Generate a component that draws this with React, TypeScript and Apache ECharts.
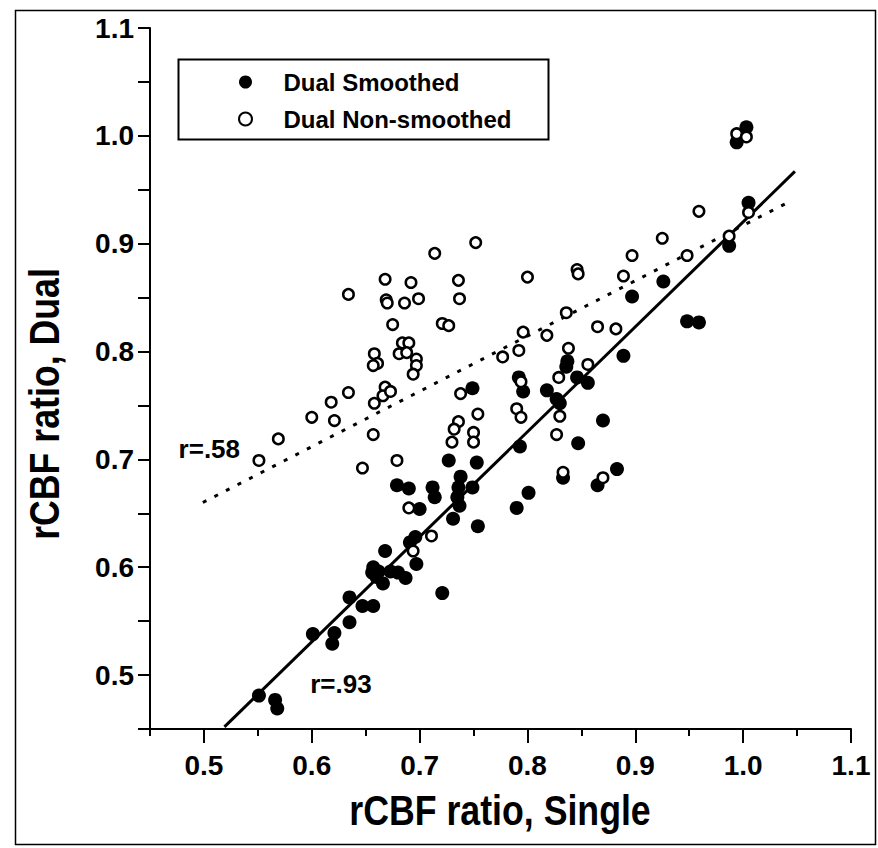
import React, { useEffect, useRef } from "react";
import * as echarts from "echarts";

// Dual Smoothed (filled circles)
const smoothedX = [
  0.551, 0.566, 0.568, 0.601, 0.621, 0.619, 0.635, 0.635, 0.647, 0.657,
  0.668, 0.657, 0.656, 0.660, 0.666, 0.662, 0.673, 0.680, 0.687, 0.696,
  0.691, 0.697, 0.700, 0.679, 0.690, 0.712, 0.714, 0.721, 0.731, 0.736,
  0.735, 0.737, 0.738, 0.749, 0.753, 0.727, 0.754, 0.790, 0.801, 0.793,
  0.749, 0.792, 0.796, 0.818, 0.846, 0.856, 0.827, 0.830, 0.837, 0.836,
  0.889, 0.897, 0.926, 0.948, 0.959, 0.987, 1.005, 0.994, 1.003, 0.870,
  0.847, 0.883, 0.865, 0.833,
];
const smoothedY = [
  0.481, 0.477, 0.469, 0.538, 0.539, 0.529, 0.572, 0.549, 0.564, 0.564,
  0.615, 0.600, 0.595, 0.591, 0.585, 0.596, 0.596, 0.595, 0.590, 0.628,
  0.623, 0.603, 0.654, 0.676, 0.673, 0.674, 0.665, 0.576, 0.645, 0.674,
  0.665, 0.657, 0.684, 0.674, 0.697, 0.699, 0.638, 0.655, 0.669, 0.712,
  0.766, 0.776, 0.763, 0.764, 0.776, 0.771, 0.756, 0.752, 0.791, 0.786,
  0.796, 0.851, 0.865, 0.828, 0.827, 0.898, 0.938, 0.994, 1.008, 0.736,
  0.715, 0.691, 0.676, 0.683,
];

// Dual Non-smoothed (open circles)
const nonSmoothedX = [
  0.551, 0.569, 0.600, 0.618, 0.621, 0.634, 0.634, 0.657, 0.647, 0.658,
  0.658, 0.661, 0.657, 0.668, 0.666, 0.673, 0.679, 0.668, 0.669, 0.670,
  0.686, 0.692, 0.699, 0.675, 0.684, 0.690, 0.681, 0.688, 0.697, 0.697,
  0.694, 0.714, 0.721, 0.727, 0.736, 0.737, 0.752, 0.738, 0.754, 0.736,
  0.732, 0.750, 0.750, 0.730, 0.711, 0.690, 0.694, 0.777, 0.792, 0.796,
  0.800, 0.818, 0.836, 0.838, 0.846, 0.847, 0.856, 0.865, 0.882, 0.889,
  0.897, 0.925, 0.948, 0.959, 0.987, 1.005, 0.994, 1.003, 0.794, 0.829,
  0.790, 0.794, 0.830, 0.827, 0.833, 0.870,
];
const nonSmoothedY = [
  0.699, 0.719, 0.739, 0.753, 0.736, 0.762, 0.853, 0.723, 0.692, 0.752,
  0.798, 0.789, 0.787, 0.767, 0.759, 0.763, 0.699, 0.867, 0.848, 0.845,
  0.845, 0.864, 0.849, 0.825, 0.808, 0.808, 0.798, 0.799, 0.793, 0.787,
  0.779, 0.891, 0.826, 0.824, 0.866, 0.849, 0.901, 0.761, 0.742, 0.735,
  0.728, 0.725, 0.716, 0.716, 0.629, 0.655, 0.615, 0.795, 0.801, 0.818,
  0.869, 0.815, 0.836, 0.803, 0.876, 0.872, 0.788, 0.823, 0.821, 0.870,
  0.889, 0.905, 0.889, 0.930, 0.907, 0.929, 1.002, 0.999, 0.772, 0.776,
  0.747, 0.739, 0.740, 0.723, 0.688, 0.683,
];

// Regression lines (end points)
const fitSmoothedX = [0.519, 1.048];
const fitSmoothedY = [0.452, 0.967];
const fitNonSmoothedX = [0.499, 1.041];
const fitNonSmoothedY = [0.66, 0.938];

// Ticks
const xMajorTicks = [0.5, 0.6, 0.7, 0.8, 0.9, 1.0, 1.1];
const yMajorTicks = [0.5, 0.6, 0.7, 0.8, 0.9, 1.0, 1.1];

// Correlation labels
const annoText = ["r=.58", "r=.93"];
const annoX = [0.505, 0.627];
const annoY = [0.71, 0.492];

const xTitle = "rCBF ratio, Single";
const yTitle = "rCBF ratio, Dual";

const REG = "'Liberation Sans', Arial, Helvetica, sans-serif";

const zip = (xs: number[], ys: number[]) => xs.map((x, i) => [x, ys[i]]);

export default function App() {
  const ref = useRef<HTMLDivElement>(null);
  useEffect(() => {
    if (!ref.current) return;
    const chart = echarts.init(ref.current, undefined, { renderer: "svg" });
    const axisCommon = {
      type: "value" as const,
      min: 0.45,
      max: 1.1,
      interval: 0.05,
      splitLine: { show: false },
    };
    chart.setOption({
      animation: false,
      backgroundColor: "#ffffff",
      grid: { left: 150, top: 28, width: 701, height: 701, containLabel: false },
      legend: {
        data: ["Dual Smoothed", "Dual Non-smoothed"],
        orient: "vertical",
        left: 202,
        top: 57,
        padding: [12, 0, 0, 36],
        itemWidth: 66,
        itemHeight: 13,
        itemGap: 11,
        icon: "circle",
        selectedMode: false,
        textStyle: {
          fontFamily: REG,
          fontSize: 24,
          fontWeight: "bold",
          color: "#000",
          lineHeight: 26,
        },
      },
      xAxis: [
        {
          ...axisCommon,
          position: "bottom",
          axisLine: { lineStyle: { color: "#000", width: 2 } },
          axisTick: { length: 7, lineStyle: { color: "#000", width: 2 } },
          axisLabel: {
            customValues: xMajorTicks,
            formatter: (v: number) => v.toFixed(1),
            fontFamily: REG,
            fontSize: 28,
            fontWeight: "bold",
            color: "#000",
            margin: 22,
          },
        },
        {
          ...axisCommon,
          position: "bottom",
          axisLine: { show: false },
          axisTick: {
            customValues: xMajorTicks,
            length: 14,
            lineStyle: { color: "#000", width: 2 },
          },
          axisLabel: { show: false },
        },
      ],
      yAxis: {
        ...axisCommon,
        axisLine: { lineStyle: { color: "#000", width: 2 } },
        axisTick: { length: 12, lineStyle: { color: "#000", width: 2 } },
        axisLabel: {
          customValues: yMajorTicks,
          formatter: (v: number) => v.toFixed(1),
          fontFamily: REG,
          fontSize: 28,
          fontWeight: "bold",
          color: "#000",
          margin: 16,
        },
      },
      graphic: [
        {
          type: "rect",
          left: 13,
          top: 8,
          shape: { width: 860, height: 834 },
          style: { fill: "none", stroke: "#000", lineWidth: 1.5 },
          silent: true,
        },
        {
          type: "rect",
          left: 176,
          top: 57,
          shape: { width: 370, height: 80 },
          style: { fill: "none", stroke: "#000", lineWidth: 2 },
          silent: true,
        },
        {
          type: "text",
          x: 500,
          y: 810,
          scaleX: 0.85,
          silent: true,
          style: {
            text: xTitle,
            fontFamily: REG,
            fontSize: 42,
            fontWeight: "bold",
            fill: "#000",
            align: "center",
            verticalAlign: "middle",
          },
        },
        {
          type: "text",
          x: 44,
          y: 404,
          rotation: Math.PI / 2,
          scaleX: 0.85,
          silent: true,
          style: {
            text: yTitle,
            fontFamily: REG,
            fontSize: 42,
            fontWeight: "bold",
            fill: "#000",
            align: "center",
            verticalAlign: "middle",
          },
        },
      ],
      series: [
        {
          name: "fit smoothed",
          type: "line",
          data: zip(fitSmoothedX, fitSmoothedY),
          symbol: "none",
          silent: true,
          lineStyle: { color: "#000", width: 3 },
          z: 2,
        },
        {
          name: "fit non-smoothed",
          type: "line",
          data: zip(fitNonSmoothedX, fitNonSmoothedY),
          symbol: "none",
          silent: true,
          lineStyle: { color: "#000", width: 3, type: [4, 9] },
          z: 2,
        },
        {
          name: "Dual Smoothed",
          type: "scatter",
          data: zip(smoothedX, smoothedY),
          symbol: "circle",
          symbolSize: 14,
          itemStyle: { color: "#000", opacity: 1 },
          z: 3,
        },
        {
          name: "Dual Non-smoothed",
          type: "scatter",
          data: zip(nonSmoothedX, nonSmoothedY),
          symbol: "circle",
          symbolSize: 10.5,
          itemStyle: { color: "#fff", borderColor: "#000", borderWidth: 2.5, opacity: 1 },
          z: 4,
        },
        {
          name: "annotations",
          type: "scatter",
          data: annoX.map((x, i) => ({ value: [x, annoY[i]], name: annoText[i] })),
          symbolSize: 0,
          silent: true,
          itemStyle: { opacity: 1 },
          label: {
            show: true,
            position: "inside",
            formatter: (p: any) => p.name,
            fontFamily: REG,
            fontSize: 26,
            fontWeight: "bold",
            color: "#000",
            opacity: 1,
          },
          z: 5,
        },
      ],
    });
    return () => chart.dispose();
  }, []);
  return (
    <div
      ref={ref}
      style={{ position: "fixed", left: 0, top: 0, width: 878, height: 848, background: "#fff" }}
    />
  );
}
